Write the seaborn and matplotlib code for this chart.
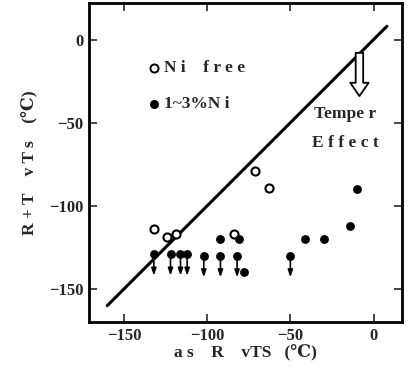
import matplotlib
matplotlib.use("Agg")
import matplotlib.pyplot as plt
import seaborn as sns
import pandas as pd

# Ni free (open circles)
ni_free_x = [-132, -124, -119, -84, -71, -63]
ni_free_y = [-114, -119, -117, -117, -79, -89]

# 1~3% Ni (filled circles)
ni_x = [-132, -122, -116, -112, -102, -92, -82, -92, -81, -78, -50, -41, -30, -14, -10]
ni_y = [-129, -129, -129, -129, -130, -130, -130, -120, -120, -140, -130, -120, -120, -112, -90]

# filled points that are upper bounds (arrow drawn downwards)
bound_x = [-132, -122, -116, -112, -102, -92, -82, -50]
bound_y = [-129, -129, -129, -129, -130, -130, -130, -130]

# reference line (R+T vTs = as R vTS)
line_x = [-160, 8]
line_y = [-160, 8]

xticks = [-150, -100, -50, 0]
yticks = [0, -50, -100, -150]

sns.set_theme(style="ticks")
plt.rcParams['font.family'] = ['Liberation Serif', 'DejaVu Serif']
plt.rcParams['font.weight'] = 'bold'

fig = plt.figure(figsize=(4.08, 3.73), dpi=100)
ax = fig.add_axes([0.218, 0.136, 0.767, 0.856])

sns.lineplot(x=line_x, y=line_y, ax=ax, color='black', linewidth=2.2)

df_free = pd.DataFrame({'x': ni_free_x, 'y': ni_free_y})
df_ni = pd.DataFrame({'x': ni_x, 'y': ni_y})
sns.scatterplot(data=df_free, x='x', y='y', ax=ax, marker='o', s=34,
                facecolor='white', edgecolor='black', linewidth=1.5, zorder=3)
sns.scatterplot(data=df_ni, x='x', y='y', ax=ax, marker='o', s=34,
                color='black', edgecolor='black', zorder=3)

for bx, by in zip(bound_x, bound_y):
    ax.annotate('', xy=(bx, by - 13), xytext=(bx, by - 2),
                arrowprops=dict(arrowstyle='-|>,head_width=0.12,head_length=0.35',
                                color='black', lw=1.2, shrinkA=0, shrinkB=0))

# legend drawn as text
ax.scatter([-132], [-17], s=34, facecolor='white', edgecolor='black', linewidth=1.4)
ax.text(-126, -17, 'N i    f r e e', va='center', ha='left', fontsize=12.5, fontweight='bold')
ax.scatter([-132], [-38.5], s=30, color='black')
ax.text(-126, -38.5, '1~3%N i', va='center', ha='left', fontsize=12.5, fontweight='bold')

# temper effect arrow and text
ax.annotate('', xy=(-8.5, -34), xytext=(-8.5, -8),
            arrowprops=dict(arrowstyle='simple,head_width=1.1,head_length=0.8,tail_width=0.45',
                            fc='white', ec='black', lw=1.3, shrinkA=0, shrinkB=0))
ax.text(-17, -45, 'Tempe r', ha='center', va='center', fontsize=12.5, fontweight='bold')
ax.text(-17, -62, 'E f f e c t', ha='center', va='center', fontsize=12.5, fontweight='bold')

ax.set_xlim(-171, 17)
ax.set_ylim(-170, 22)
ax.set_xticks(xticks)
ax.set_yticks(yticks)
ax.set_xticklabels([f'\u2212{-t}' if t < 0 else str(t) for t in xticks], fontsize=12, fontweight='bold')
ax.set_yticklabels([f'\u2212{-t}' if t < 0 else str(t) for t in yticks], fontsize=12, fontweight='bold')
ax.tick_params(direction='in', top=True, right=True, length=6, width=1.2, pad=4)
for sp in ax.spines.values():
    sp.set_linewidth(2.0)
    sp.set_color('black')

ax.set_xlabel('a s    R    vTS   (\u2103)', fontsize=12.5, fontweight='bold', labelpad=0)
ax.set_ylabel('R + T    v T s    (\u2103)', fontsize=12.5, fontweight='bold', labelpad=8)

fig.savefig('out.png', dpi=100, facecolor='white')
